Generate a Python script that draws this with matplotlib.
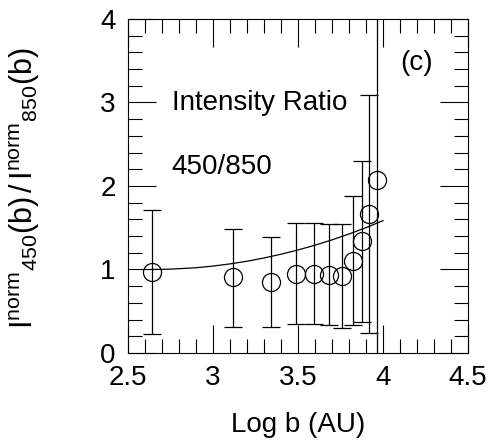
import matplotlib
matplotlib.use('Agg')
import matplotlib.pyplot as plt
from matplotlib.ticker import MultipleLocator

plt.rcParams['font.family'] = ['Liberation Sans', 'DejaVu Sans']
plt.rcParams['mathtext.fontset'] = 'custom'
plt.rcParams['mathtext.rm'] = 'Liberation Sans'
plt.rcParams['mathtext.it'] = 'Liberation Sans'

# data
log_b = [2.643, 3.119, 3.341, 3.488, 3.594, 3.682, 3.761, 3.822, 3.878, 3.920, 3.965]
ratio = [0.97, 0.91, 0.85, 0.95, 0.95, 0.93, 0.92, 1.10, 1.34, 1.665, 2.07]
err_hi = [1.71, 1.49, 1.39, 1.56, 1.56, 1.55, 1.55, 1.88, 2.30, 3.09, 4.6]
err_lo = [0.23, 0.315, 0.315, 0.35, 0.35, 0.33, 0.30, 0.33, 0.375, 0.236, -0.3]

# fitted curve
fit_x = [2.643, 2.75, 2.9, 3.0, 3.1, 3.2, 3.3, 3.4, 3.5, 3.6, 3.7, 3.8, 3.9, 4.0]
fit_y = [1.0, 1.004, 1.021, 1.041, 1.067, 1.099, 1.138, 1.183, 1.234, 1.291, 1.355, 1.425, 1.501, 1.585]

lo = [r - l for r, l in zip(ratio, err_lo)]
hi = [h - r for r, h in zip(ratio, err_hi)]

fig = plt.figure(figsize=(4.91, 4.42), dpi=100)
ax = fig.add_axes([0.2607, 0.2014, 0.6925, 0.7556])

ax.errorbar(log_b, ratio, yerr=[lo, hi], fmt='none', ecolor='black',
            elinewidth=0.9, capsize=6.5, capthick=0.9)
ax.plot(log_b, ratio, 'o', ms=13, mfc='none', mec='black', mew=0.9)
ax.plot(fit_x, fit_y, color='black', lw=0.9)

ax.text(2.757, 2.99, 'Intensity Ratio', fontsize=20, va='center')
ax.text(2.757, 2.23, '450/850', fontsize=20, va='center')
ax.text(4.198, 3.47, '(c)', fontsize=20, va='center', ha='center')

ax.set_xlim(2.5, 4.5)
ax.set_ylim(0, 4)
ax.xaxis.set_major_locator(MultipleLocator(0.5))
ax.xaxis.set_minor_locator(MultipleLocator(0.1))
ax.yaxis.set_major_locator(MultipleLocator(1))
ax.yaxis.set_minor_locator(MultipleLocator(0.2))
ax.set_xticks([2.5, 3, 3.5, 4, 4.5])
ax.set_xticklabels(['2.5', '3', '3.5', '4', '4.5'])
ax.tick_params(which='both', direction='in', top=True, right=True,
               width=0.8, labelsize=20, pad=9)
ax.tick_params(which='major', length=20)
ax.tick_params(which='minor', length=10)
for s in ax.spines.values():
    s.set_linewidth(0.8)

ax.set_xlabel('Log b (AU)', fontsize=20)
ax.xaxis.set_label_coords(0.5, -0.177)
ax.set_ylabel(r'$\mathrm{I^{norm}{}_{450}(b)\,/\,I^{norm}{}_{850}(b)}$', fontsize=22)
ax.yaxis.set_label_coords(-0.253, 0.4925)

fig.savefig('out.png', dpi=100)
